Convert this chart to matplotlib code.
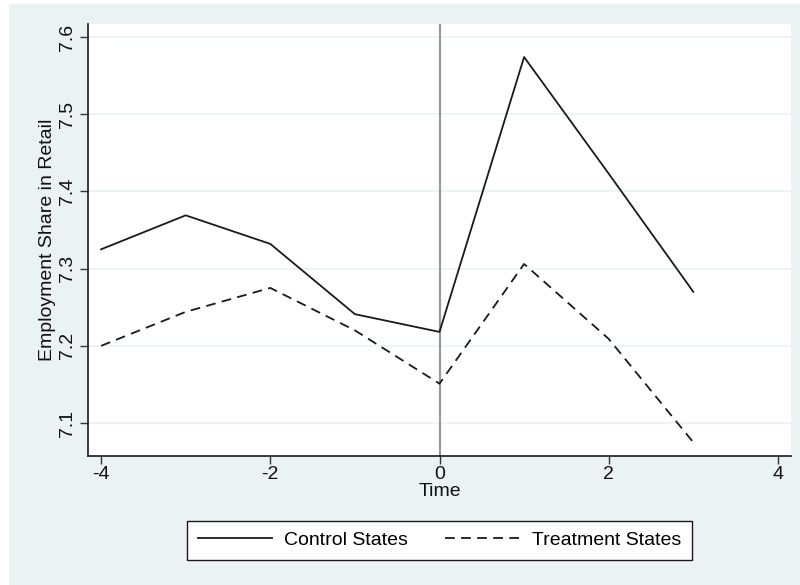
import matplotlib
matplotlib.use("Agg")
import matplotlib.pyplot as plt
from matplotlib.patches import Rectangle

plt.rcParams['font.family'] = ['Liberation Sans', 'DejaVu Sans']

time = [-4, -3, -2, -1, 0, 1, 2, 3]
control = [7.325, 7.369, 7.332, 7.241, 7.218, 7.574, 7.423, 7.270]
treatment = [7.200, 7.244, 7.275, 7.220, 7.151, 7.306, 7.209, 7.075]
xticks = [-4, -2, 0, 2, 4]
yticks = [7.1, 7.2, 7.3, 7.4, 7.5, 7.6]

bg = '#eaf2f3'
W, H = 800, 585
fs = 14

fig = plt.figure(figsize=(8, 5.85), dpi=100, facecolor='white')
fig.patches.append(Rectangle((9 / W, 0), 1 - 9 / W, 1 - 4 / H,
                             transform=fig.transFigure, facecolor=bg,
                             edgecolor='none', zorder=-10))

ax = fig.add_axes([88 / W, 1 - 456 / H, (791 - 88) / W, (456 - 24) / H])
ax.set_facecolor('white')

ax.plot(time, control, color='#1a1a1a', lw=1.3, label='Control States')
ax.plot(time, treatment, color='#1a1a1a', lw=1.3, dashes=(5.4, 3.5),
        label='Treatment States')
ax.axvline(0, color='#9a9a9a', lw=1.6, zorder=1)

ax.set_xlim(-4.155, 4.155)
ax.set_ylim(7.0573, 7.6168)
ax.set_xticks(xticks)
ax.set_xticklabels([str(t) for t in xticks])
ax.set_yticks(yticks)
ax.set_yticklabels([f'{t:.1f}' for t in yticks], rotation=90, va='center')
ax.yaxis.grid(True, color=bg, lw=1.2)
ax.set_axisbelow(True)

for s in ['top', 'right']:
    ax.spines[s].set_visible(False)
for s in ['left', 'bottom']:
    ax.spines[s].set_color('#1a1a1a')
    ax.spines[s].set_linewidth(1.2)

ax.tick_params(axis='both', direction='out', length=5.5, width=1,
               color='#333333', labelsize=fs, labelcolor='#111111')
ax.tick_params(axis='x', pad=2)
ax.tick_params(axis='y', pad=3)

ax.set_xlabel('Time', fontsize=fs, labelpad=0, color='#111111')
ax.set_ylabel('Employment Share in Retail', fontsize=fs, labelpad=2,
              color='#111111')

leg = ax.legend(loc='center', bbox_to_anchor=(0.5, 1 - (540 - 24) / (456 - 24)),
                ncol=2, frameon=True, fancybox=False, fontsize=fs,
                handlelength=3.8, handletextpad=0.65, columnspacing=1.9,
                borderpad=0.55, edgecolor='#1a1a1a', framealpha=1)
leg.get_frame().set_linewidth(1.0)

fig.savefig('out.png', dpi=100, facecolor=fig.get_facecolor())
